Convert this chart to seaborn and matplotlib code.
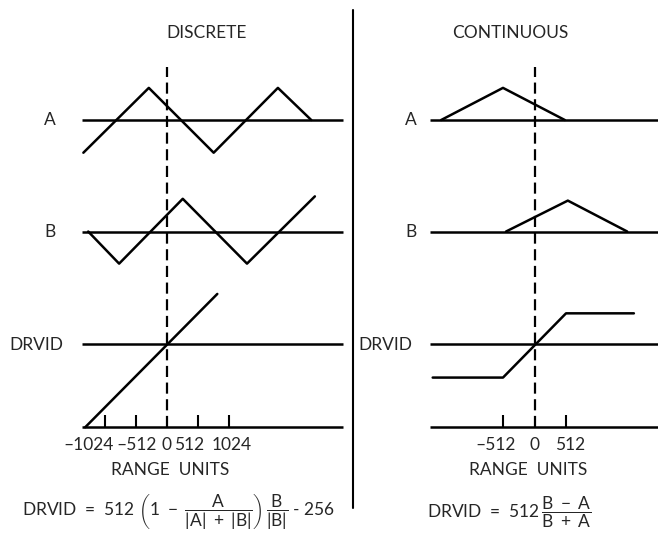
import numpy as np
import seaborn as sns
import matplotlib.pyplot as plt
from matplotlib.lines import Line2D

# waveform vertices: x in range units, y relative to the row's own baseline
disc_a_x = [-1380, -300, 770, 1830, 2380]
disc_a_y = [-540, 530, -540, 530, 0]
disc_b_x = [-1300, -790, 260, 1320, 2440]
disc_b_y = [0, -530, 540, -530, 580]
disc_drvid_x = [-1350, 830]
disc_drvid_y = [-1370, 830]

cont_a_x = [-1540, -520, 500]
cont_a_y = [0, 530, 0]
cont_b_x = [-470, 550, 1530]
cont_b_y = [0, 510, 0]
cont_drvid_x = [-1680, -520, 520, 1640]
cont_drvid_y = [-550, -550, 510, 510]

disc_ticks = [-1024, -512, 512, 1024]
disc_tick_labels = ["\u20131024", "\u2013512", "0", "512", "1024"]
disc_label_x = [-1300, -500, 0, 360, 1060]
cont_ticks = [-512, 512]
cont_tick_labels = ["\u2013512", "0", "512"]
cont_label_x = [-640, 0, 580]

row_names = ["A", "B", "DRVID"]

sns.set_theme(style="white")
plt.rcParams["font.family"] = ["Lato", "DejaVu Sans"]
plt.rcParams["mathtext.fontset"] = "custom"
plt.rcParams["mathtext.rm"] = "Lato"
plt.rcParams["mathtext.it"] = "Lato"
plt.rcParams["mathtext.bf"] = "Lato:bold"

W, H = 658, 535
S = 16.5  # range units per pixel
base = {"A": 0, "B": -1840, "DRVID": -3700}
axis_y = -5060
lw = 1.8

fig = plt.figure(figsize=(W / 100, H / 100), dpi=100)
fig.patch.set_facecolor("white")


def fx(x):
    return x / W


def fy(y):
    return 1 - y / H


def make_ax(left, right, zero):
    ax = fig.add_axes([fx(left), 0, (right - left) / W, 1])
    ax.set_xlim((left - zero) * S, (right - zero) * S)
    ax.set_ylim(-(H - 120) * S, 120 * S)
    ax.axis("off")
    return ax


axl = make_ax(0, 353, 167)
axr = make_ax(353, W, 534.5)

panels = [
    (axl, [(disc_a_x, disc_a_y), (disc_b_x, disc_b_y), (disc_drvid_x, disc_drvid_y)],
     -1400, 2900, disc_ticks, disc_tick_labels, disc_label_x),
    (axr, [(cont_a_x, cont_a_y), (cont_b_x, cont_b_y), (cont_drvid_x, cont_drvid_y)],
     -1720, 2200, cont_ticks, cont_tick_labels, cont_label_x),
]

fs = 12.5

for ax, series, x0, x1, ticks, tlabels, tpos in panels:
    for name, (xs, ys) in zip(row_names, series):
        ax.hlines(base[name], x0, x1, color="black", lw=lw)
        sns.lineplot(x=xs, y=np.array(ys) + base[name], ax=ax, color="black",
                     lw=lw, sort=False, estimator=None)
    ax.hlines(axis_y, x0, x1, color="black", lw=lw)
    ax.vlines(ticks, axis_y, axis_y + 200, color="black", lw=1.5)
    ax.vlines(0, axis_y, 880, color="black", lw=1.6, linestyles=(0, (5, 2.5)))
    for lab, xp in zip(tlabels, tpos):
        ax.text(xp, axis_y - 170, lab, ha="center", va="top", fontsize=fs)

fig.text(fx(207), fy(33), "DISCRETE", ha="center", va="center", fontsize=fs)
fig.text(fx(510), fy(33), "CONTINUOUS", ha="center", va="center", fontsize=fs)

for name, y in zip(row_names, [120, 232, 345]):
    lx = 36 if name == "DRVID" else 50
    rx = 385 if name == "DRVID" else 411
    fig.text(fx(lx), fy(y), name, ha="center", va="center", fontsize=fs)
    fig.text(fx(rx), fy(y), name, ha="center", va="center", fontsize=fs)

fig.text(fx(170), fy(470), "RANGE  UNITS", ha="center", va="center", fontsize=fs)
fig.text(fx(528), fy(470), "RANGE  UNITS", ha="center", va="center", fontsize=fs)

fig.text(fx(22), fy(512),
         r"DRVID  =  512 $\left(1\ -\ \dfrac{A}{|A|\ +\ |B|}\right)\,\dfrac{B}{|B|}$ - 256",
         ha="left", va="center", fontsize=fs)
fig.text(fx(427), fy(512), r"DRVID  =  512$\,\dfrac{B\ -\ A}{B\ +\ A}$",
         ha="left", va="center", fontsize=fs)

fig.add_artist(Line2D([fx(353), fx(353)], [fy(10), fy(508)], color="black", lw=1.5))

fig.savefig("out.png", dpi=100, facecolor="white")
